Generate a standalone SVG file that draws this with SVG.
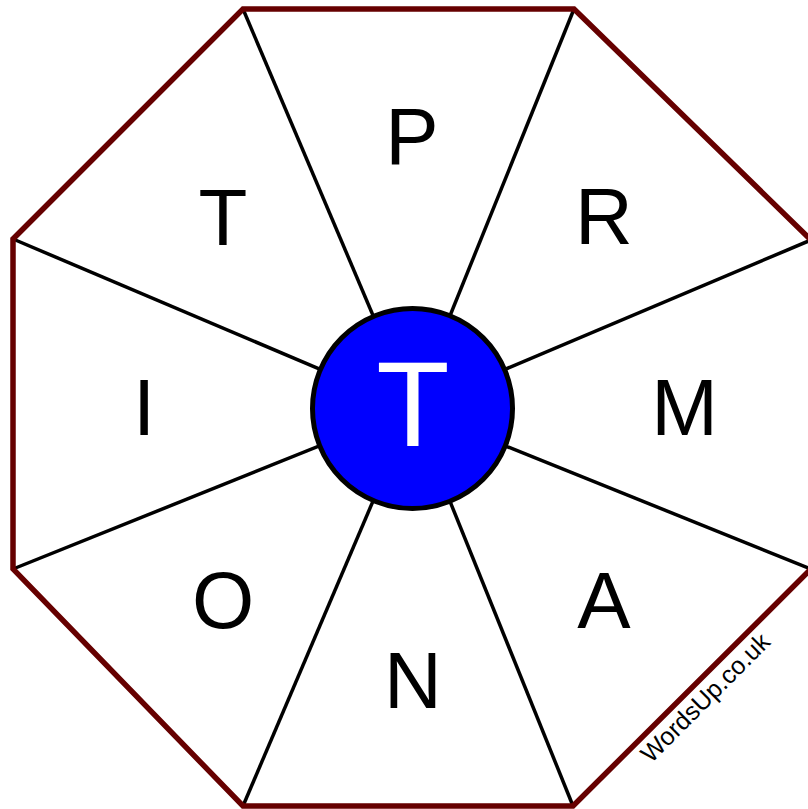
<svg xmlns="http://www.w3.org/2000/svg" width="808" height="809" viewBox="0 0 808 809">
<style>
.spoke{stroke:#000;stroke-width:3.5;fill:none}
.letter{font-family:"Liberation Sans",Arial,sans-serif;font-size:80px;fill:#000;text-anchor:middle}
</style>
<rect width="808" height="809" fill="#fff"/>
<g id="connectors">
<line class="spoke" x1="412.5" y1="408.5" x2="243" y2="9"/>
<line class="spoke" x1="412.5" y1="408.5" x2="574" y2="9"/>
<line class="spoke" x1="412.5" y1="408.5" x2="811" y2="240"/>
<line class="spoke" x1="412.5" y1="408.5" x2="811" y2="569"/>
<line class="spoke" x1="412.5" y1="408.5" x2="573" y2="806"/>
<line class="spoke" x1="412.5" y1="408.5" x2="243" y2="806"/>
<line class="spoke" x1="412.5" y1="408.5" x2="13" y2="569"/>
<line class="spoke" x1="412.5" y1="408.5" x2="13" y2="239"/>
</g>
<g id="octagon">
<polygon points="243,9 574,9 811,240 811,569 573,806 243,806 13,569 13,239" fill="none" stroke="#660000" stroke-width="5.5"/>
</g>
<g id="center">
<circle cx="412.5" cy="408.5" r="100" fill="#0000ff" stroke="#000" stroke-width="5"/>
<text x="413" y="446" font-family="Liberation Sans,Arial,sans-serif" font-size="120" fill="#fff" text-anchor="middle">T</text>
</g>
<g id="node-P"><text class="letter" x="412" y="164">P</text></g>
<g id="node-R"><text class="letter" x="604" y="244">R</text></g>
<g id="node-M"><text class="letter" x="684.5" y="435">M</text></g>
<g id="node-A"><text class="letter" x="604" y="628">A</text></g>
<g id="node-N"><text class="letter" x="413" y="708">N</text></g>
<g id="node-O"><text class="letter" x="223" y="628">O</text></g>
<g id="node-I"><text class="letter" x="144" y="435">I</text></g>
<g id="node-T"><text class="letter" x="223" y="245">T</text></g>
<g id="watermark">
<text x="0" y="0" transform="translate(651,764) rotate(-45)" font-family="Liberation Sans,Arial,sans-serif" font-size="25" fill="#000">WordsUp.co.uk</text>
</g>
</svg>
